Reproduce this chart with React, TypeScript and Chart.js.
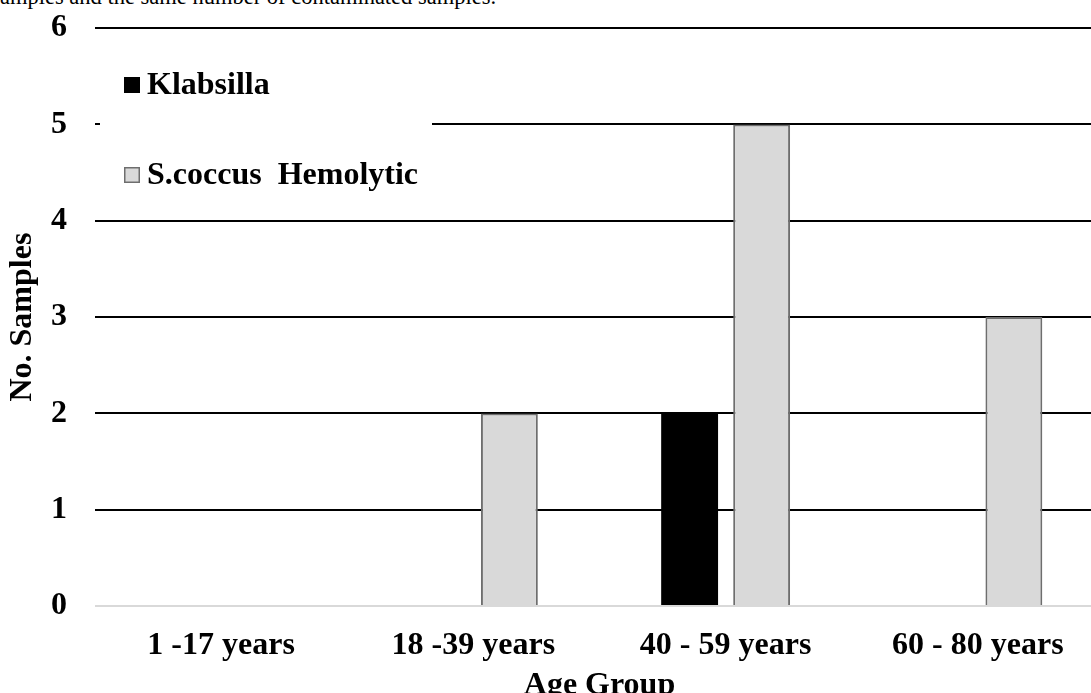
import React, { useEffect, useRef } from "react";
import { Chart, registerables } from "chart.js";

Chart.register(...registerables);

const categories = ["1 -17 years", "18 -39 years", "40 - 59 years", "60 - 80 years"];
const klabsilla = [0, 0, 2, 0];
const sCoccus = [0, 2, 5, 3];
const seriesNames = ["Klabsilla", "S.coccus  Hemolytic"];
const yTitle = "No. Samples";
const xTitle = "Age Group";
const captionText = "amples and the same number of contaminated samples.";

const FONT = "'Liberation Serif', 'Times New Roman', serif";
const CANVAS_TOP = -19;

const legendPlugin = {
  id: "insideLegend",
  afterDraw(chart: any) {
    const ctx = chart.ctx;
    const off = -CANVAS_TOP;
    ctx.save();
    ctx.fillStyle = "#ffffff";
    ctx.fillRect(100, 40 + off, 332, 170);
    const items = chart.data.datasets.map((d: any, i: number) => ({
      label: d.label,
      fill: d.backgroundColor,
      stroke: d.borderColor,
      bw: d.borderWidth,
      y: (i === 0 ? 85 : 175) + off,
    }));
    ctx.font = `bold 32px ${FONT}`;
    ctx.textBaseline = "middle";
    ctx.textAlign = "left";
    for (const it of items) {
      ctx.fillStyle = it.fill;
      ctx.fillRect(124, it.y - 8, 16, 16);
      if (it.bw > 0) {
        ctx.strokeStyle = it.stroke;
        ctx.lineWidth = 1.5;
        ctx.strokeRect(124.75, it.y - 7.25, 14.5, 14.5);
      }
      ctx.fillStyle = "#000";
      ctx.fillText(it.label, 147, it.y + 1);
    }
    ctx.restore();
  },
};

export default function App() {
  const ref = useRef<HTMLCanvasElement | null>(null);
  useEffect(() => {
    if (!ref.current) return;
    const chart = new Chart(ref.current, {
      type: "bar",
      data: {
        labels: categories,
        datasets: [
          {
            label: seriesNames[0],
            data: klabsilla,
            backgroundColor: "#000000",
            borderColor: "#000000",
            borderWidth: 0,
          },
          {
            label: seriesNames[1],
            data: sCoccus,
            backgroundColor: "#d9d9d9",
            borderColor: "#6e6e6e",
            borderWidth: 2,
          },
        ],
      },
      options: {
        animation: false,
        responsive: false,
        maintainAspectRatio: false,
        devicePixelRatio: 1,
        datasets: { bar: { categoryPercentage: 0.571, barPercentage: 0.79 } },
        layout: { padding: { top: 8, left: 0, right: 0, bottom: 0 } },
        plugins: {
          legend: { display: false },
          tooltip: { enabled: false },
        },
        scales: {
          x: {
            grid: { display: false, drawTicks: false },
            border: { display: false },
            ticks: {
              color: "#000",
              font: { family: FONT, size: 32, weight: "bold" },
              padding: 21,
              maxRotation: 0,
              autoSkip: false,
            },
            title: {
              display: true,
              text: xTitle,
              color: "#000",
              font: { family: FONT, size: 32, weight: "bold" },
              padding: { top: 0, bottom: 0 },
            },
            afterFit(scale: any) {
              scale.height = 99;
            },
          },
          y: {
            min: 0,
            max: 6,
            ticks: {
              stepSize: 1,
              color: "#000",
              font: { family: FONT, size: 32, weight: "bold" },
              padding: 28,
            },
            grid: {
              drawTicks: false,
              lineWidth: 2,
              color: (c: any) => (c.tick && c.tick.value === 0 ? "#d9d9d9" : "#000000"),
            },
            border: { display: false },
            title: {
              display: true,
              text: yTitle,
              color: "#000",
              font: { family: FONT, size: 32, weight: "bold" },
              padding: { top: 4, bottom: 0 },
            },
            afterFit(scale: any) {
              scale.width = 95;
            },
          },
        },
      },
      plugins: [legendPlugin],
    });
    return () => chart.destroy();
  }, []);

  return (
    <div
      style={{
        position: "absolute",
        left: 0,
        top: 0,
        width: 1091,
        height: 693,
        overflow: "hidden",
        background: "#fff",
      }}
    >
      <div
        style={{
          position: "absolute",
          left: 0,
          top: -14,
          fontFamily: FONT,
          fontSize: 22.5,
          lineHeight: "22px",
          whiteSpace: "nowrap",
          color: "#000",
        }}
      >
        {captionText}
      </div>
      <canvas
        ref={ref}
        width={1104}
        height={724}
        style={{ position: "absolute", left: 0, top: CANVAS_TOP, width: 1104, height: 724 }}
      />
    </div>
  );
}
